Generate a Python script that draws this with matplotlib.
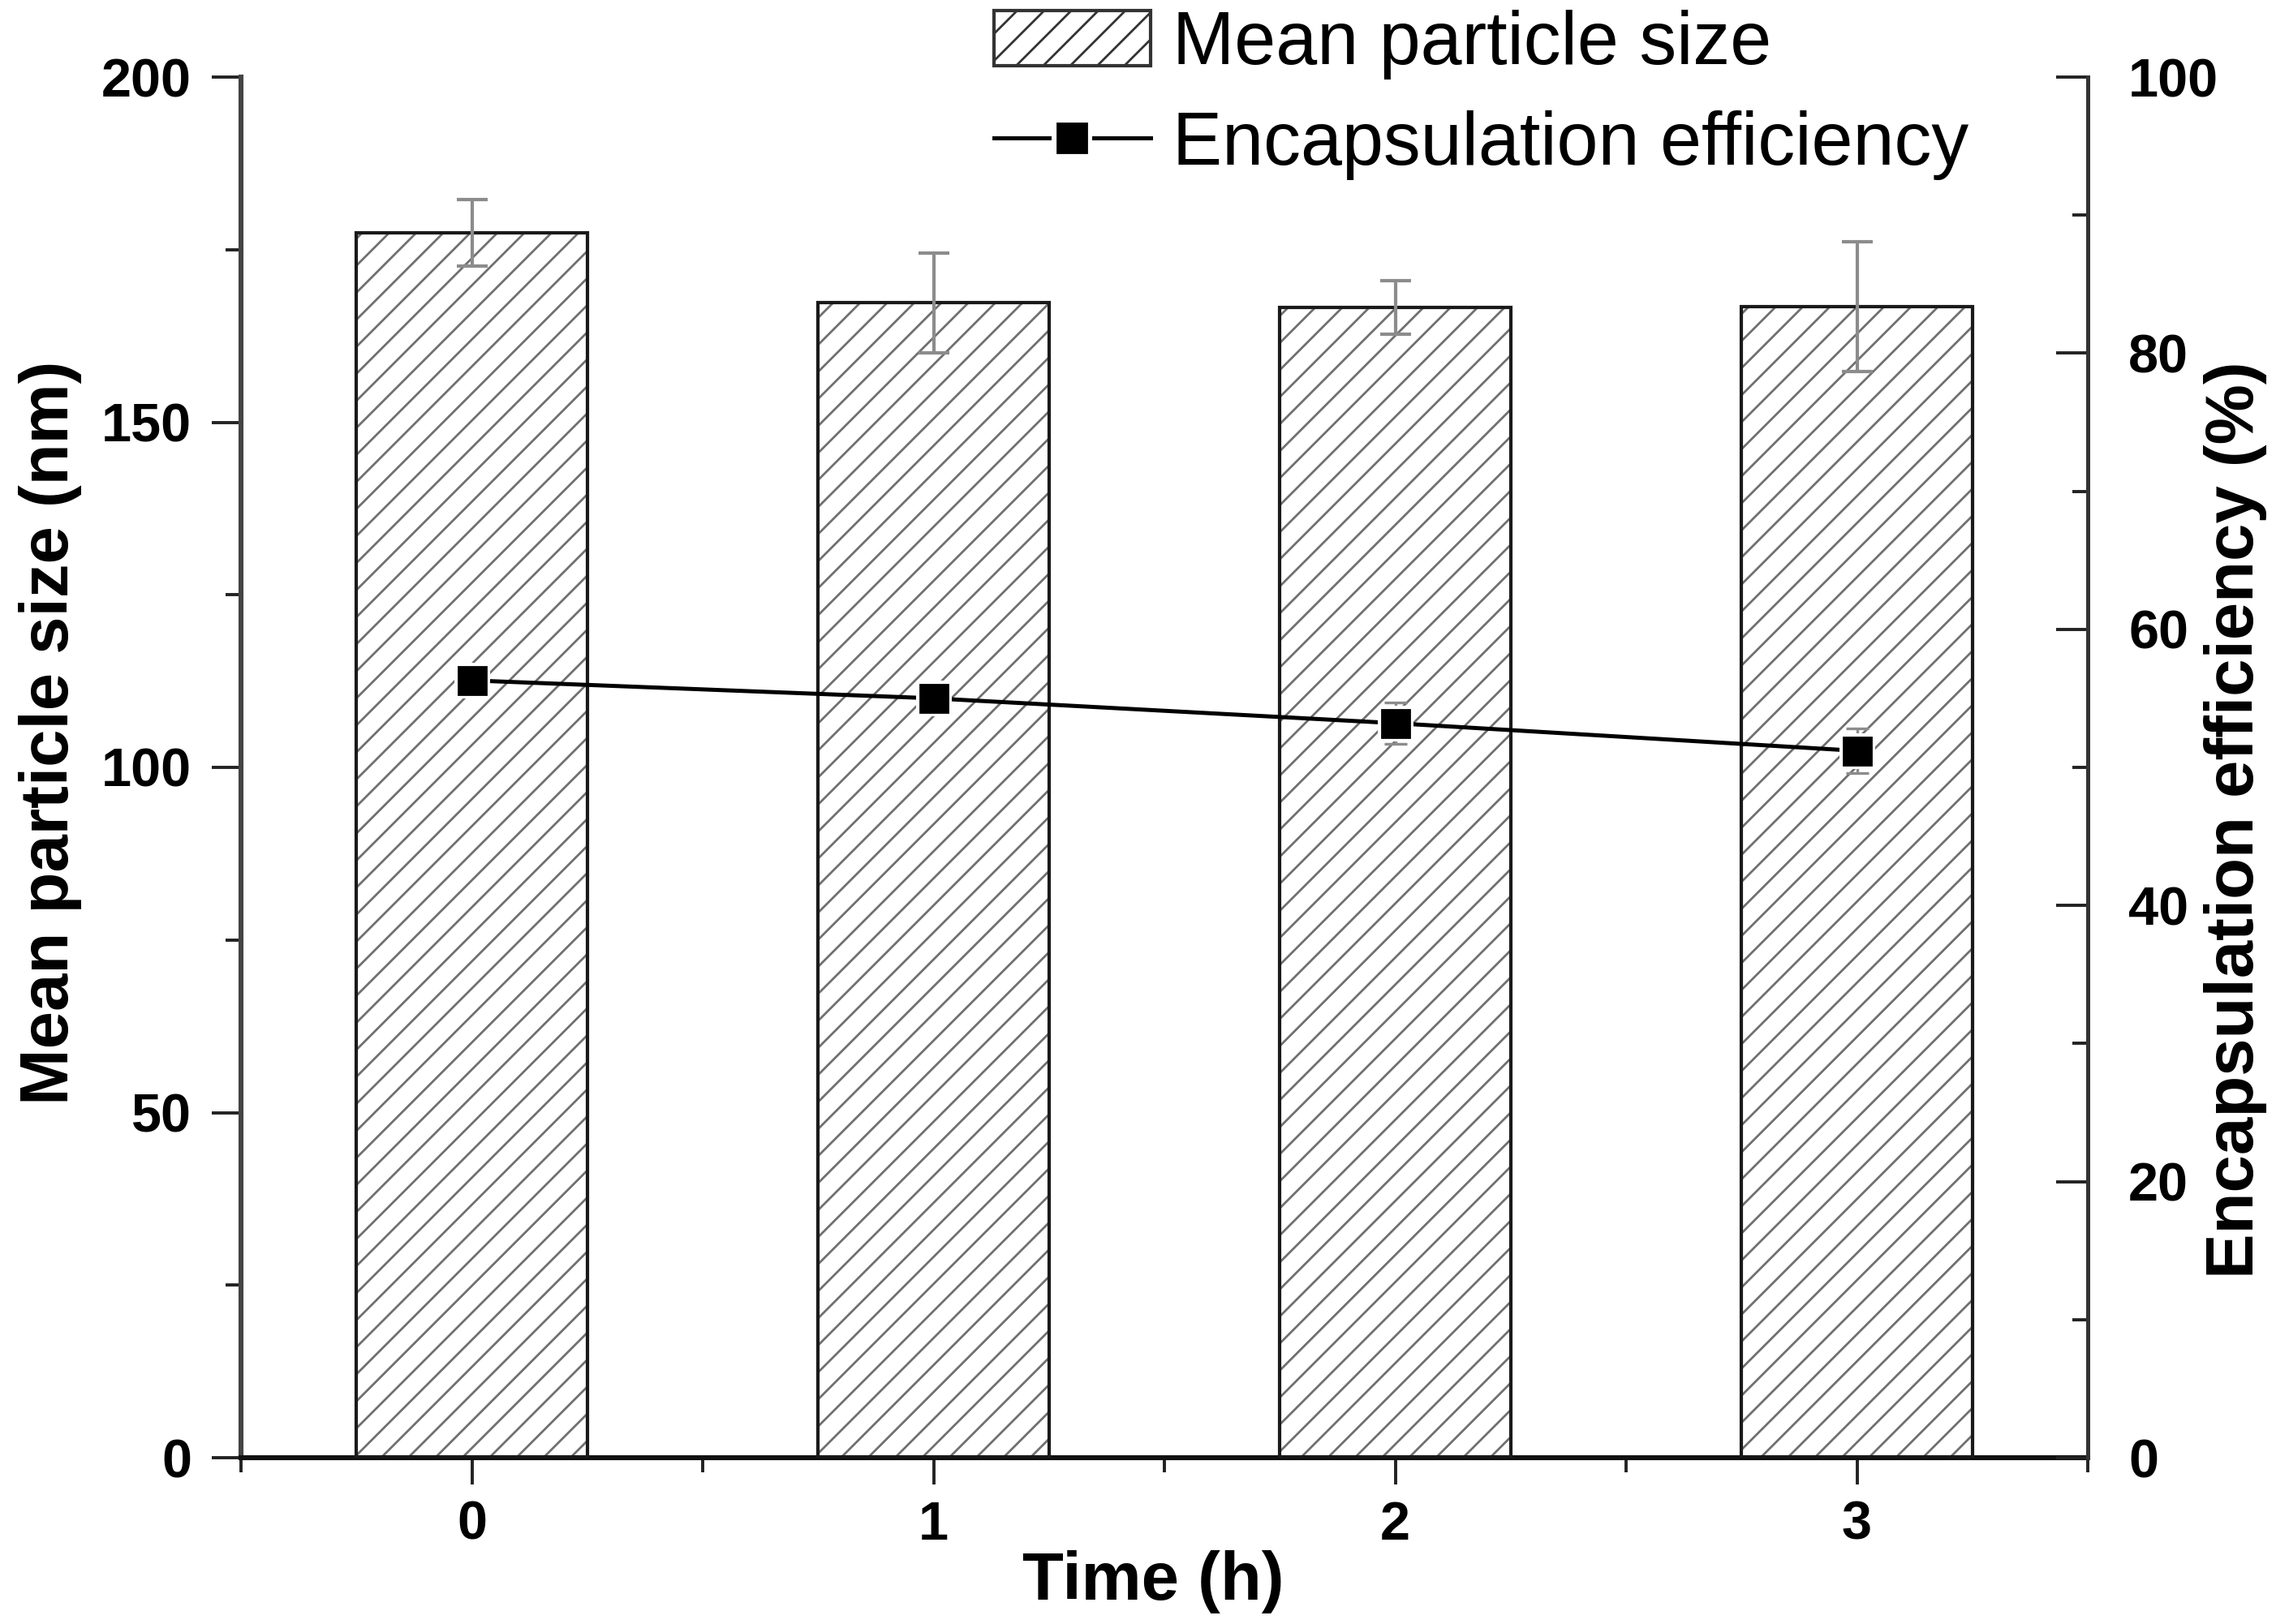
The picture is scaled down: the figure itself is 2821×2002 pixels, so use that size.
import matplotlib
matplotlib.use("Agg")
import matplotlib.pyplot as plt
from matplotlib.lines import Line2D
from matplotlib.patches import Patch
from matplotlib.legend_handler import HandlerTuple
from matplotlib.ticker import MultipleLocator

# ---- data ----
time_h = [0, 1, 2, 3]
tick_labels = ["0", "1", "2", "3"]
size_nm = [177.4, 167.3, 166.6, 166.8]
size_err = [4.8, 7.2, 3.9, 9.4]
ee_pct = [56.3, 55.0, 53.2, 51.2]
ee_err = [0.8, 1.0, 1.5, 1.6]

plt.rcParams['font.family'] = ['Liberation Sans', 'DejaVu Sans']
plt.rcParams['hatch.linewidth'] = 1.0

DPI = 200
fig = plt.figure(figsize=(2821 / DPI, 2002 / DPI), dpi=DPI)
ax = fig.add_axes([297 / 2821, 1 - 1797 / 2002, (2573 - 297) / 2821, (1797 - 95) / 2002])
ax2 = ax.twinx()

# bars: hatch layer then outline layer
ax.bar(time_h, size_nm, width=0.5, color='white', edgecolor='#707070',
       hatch='//', linewidth=0, zorder=2)
ax.bar(time_h, size_nm, width=0.5, fill=False, edgecolor='#1a1a1a',
       linewidth=1.5, zorder=3)
ax.errorbar(time_h, size_nm, yerr=size_err, fmt='none', ecolor='#8c8c8c',
            elinewidth=1.5, capsize=7, capthick=1.5, zorder=4)

ax.set_xlim(-0.5, 3.5)
ax.set_ylim(0, 200)
ax.set_xticks(time_h)
ax.set_xticklabels(tick_labels)
ax.xaxis.set_minor_locator(MultipleLocator(0.5))
ax.yaxis.set_major_locator(MultipleLocator(50))
ax.yaxis.set_minor_locator(MultipleLocator(25))

ax2.set_ylim(0, 100)
ax2.yaxis.set_major_locator(MultipleLocator(20))
ax2.yaxis.set_minor_locator(MultipleLocator(10))

# EE line
ax2.errorbar(time_h, ee_pct, yerr=ee_err, fmt='none', ecolor='#8c8c8c',
             elinewidth=1.2, capsize=5, capthick=1.2, zorder=4)
ax2.plot(time_h, ee_pct, color='black', linewidth=1.8, marker='s', markersize=16,
         markerfacecolor='white', markeredgecolor='white', markeredgewidth=0, zorder=5)
ax2.plot(time_h, ee_pct, linestyle='none', marker='s', markersize=12,
         markerfacecolor='black', markeredgecolor='black', zorder=6)

# spines
ax.spines['top'].set_visible(False)
ax2.spines['top'].set_visible(False)
ax.spines['left'].set_linewidth(2.2)
ax.spines['left'].set_color('#444444')
ax.spines['bottom'].set_linewidth(2.2)
ax.spines['bottom'].set_color('#111111')
ax2.spines['right'].set_linewidth(1.8)
ax2.spines['right'].set_color('#333333')
ax2.spines['left'].set_visible(False)
ax2.spines['bottom'].set_visible(False)

ax.tick_params(axis='x', which='major', direction='out', length=12, width=1.4,
               pad=7, labelsize=24, color='#222222')
ax.tick_params(axis='x', which='minor', direction='out', length=6.5, width=1.4, color='#222222')
ax.tick_params(axis='y', which='major', direction='out', length=13, width=1.4,
               pad=9, labelsize=24, color='#222222')
ax.tick_params(axis='y', which='minor', direction='out', length=7, width=1.4, color='#222222')
ax2.tick_params(axis='y', which='major', direction='in', length=14, width=1.4,
                pad=18, labelsize=24, color='#222222')
ax2.tick_params(axis='y', which='minor', direction='in', length=7, width=1.4, color='#222222')
for lab in ax.get_xticklabels() + ax.get_yticklabels() + ax2.get_yticklabels():
    lab.set_fontweight('bold')

ax.set_xlabel('Time (h)', fontsize=30, fontweight='bold')
ax.xaxis.label.set_va('center')
ax.xaxis.set_label_coords(0.494, -0.0899)
ax.set_ylabel('Mean particle size (nm)', fontsize=30, fontweight='bold')
ax.yaxis.label.set_va('center')
ax.yaxis.set_label_coords(-0.1033, 0.525)
ax2.set_ylabel('Encapsulation efficiency (%)', fontsize=30, fontweight='bold')
ax2.yaxis.label.set_va('center')
ax2.yaxis.set_label_coords(1.080, 0.462)

# legend
h_bar = Patch(facecolor='white', edgecolor='#333333', hatch='//', linewidth=1.5)
h_line_bg = Line2D([], [], color='black', linewidth=1.8, marker='s', markersize=18,
                   markerfacecolor='white', markeredgecolor='white', markeredgewidth=0)
h_line_fg = Line2D([], [], linestyle='none', marker='s', markersize=13,
                   markerfacecolor='black', markeredgecolor='black')
fig.legend([h_bar, (h_line_bg, h_line_fg)],
           ['Mean particle size', 'Encapsulation efficiency'],
           handler_map={tuple: HandlerTuple(ndivide=1)},
           loc='upper left', bbox_to_anchor=(1225 / 2821, 1 - 12 / 2002),
           frameon=False, fontsize=33, handlelength=2.1, handleheight=0.75,
           handletextpad=0.3, labelspacing=0.41, borderpad=0, borderaxespad=0)

fig.savefig('out.png', dpi=DPI)
